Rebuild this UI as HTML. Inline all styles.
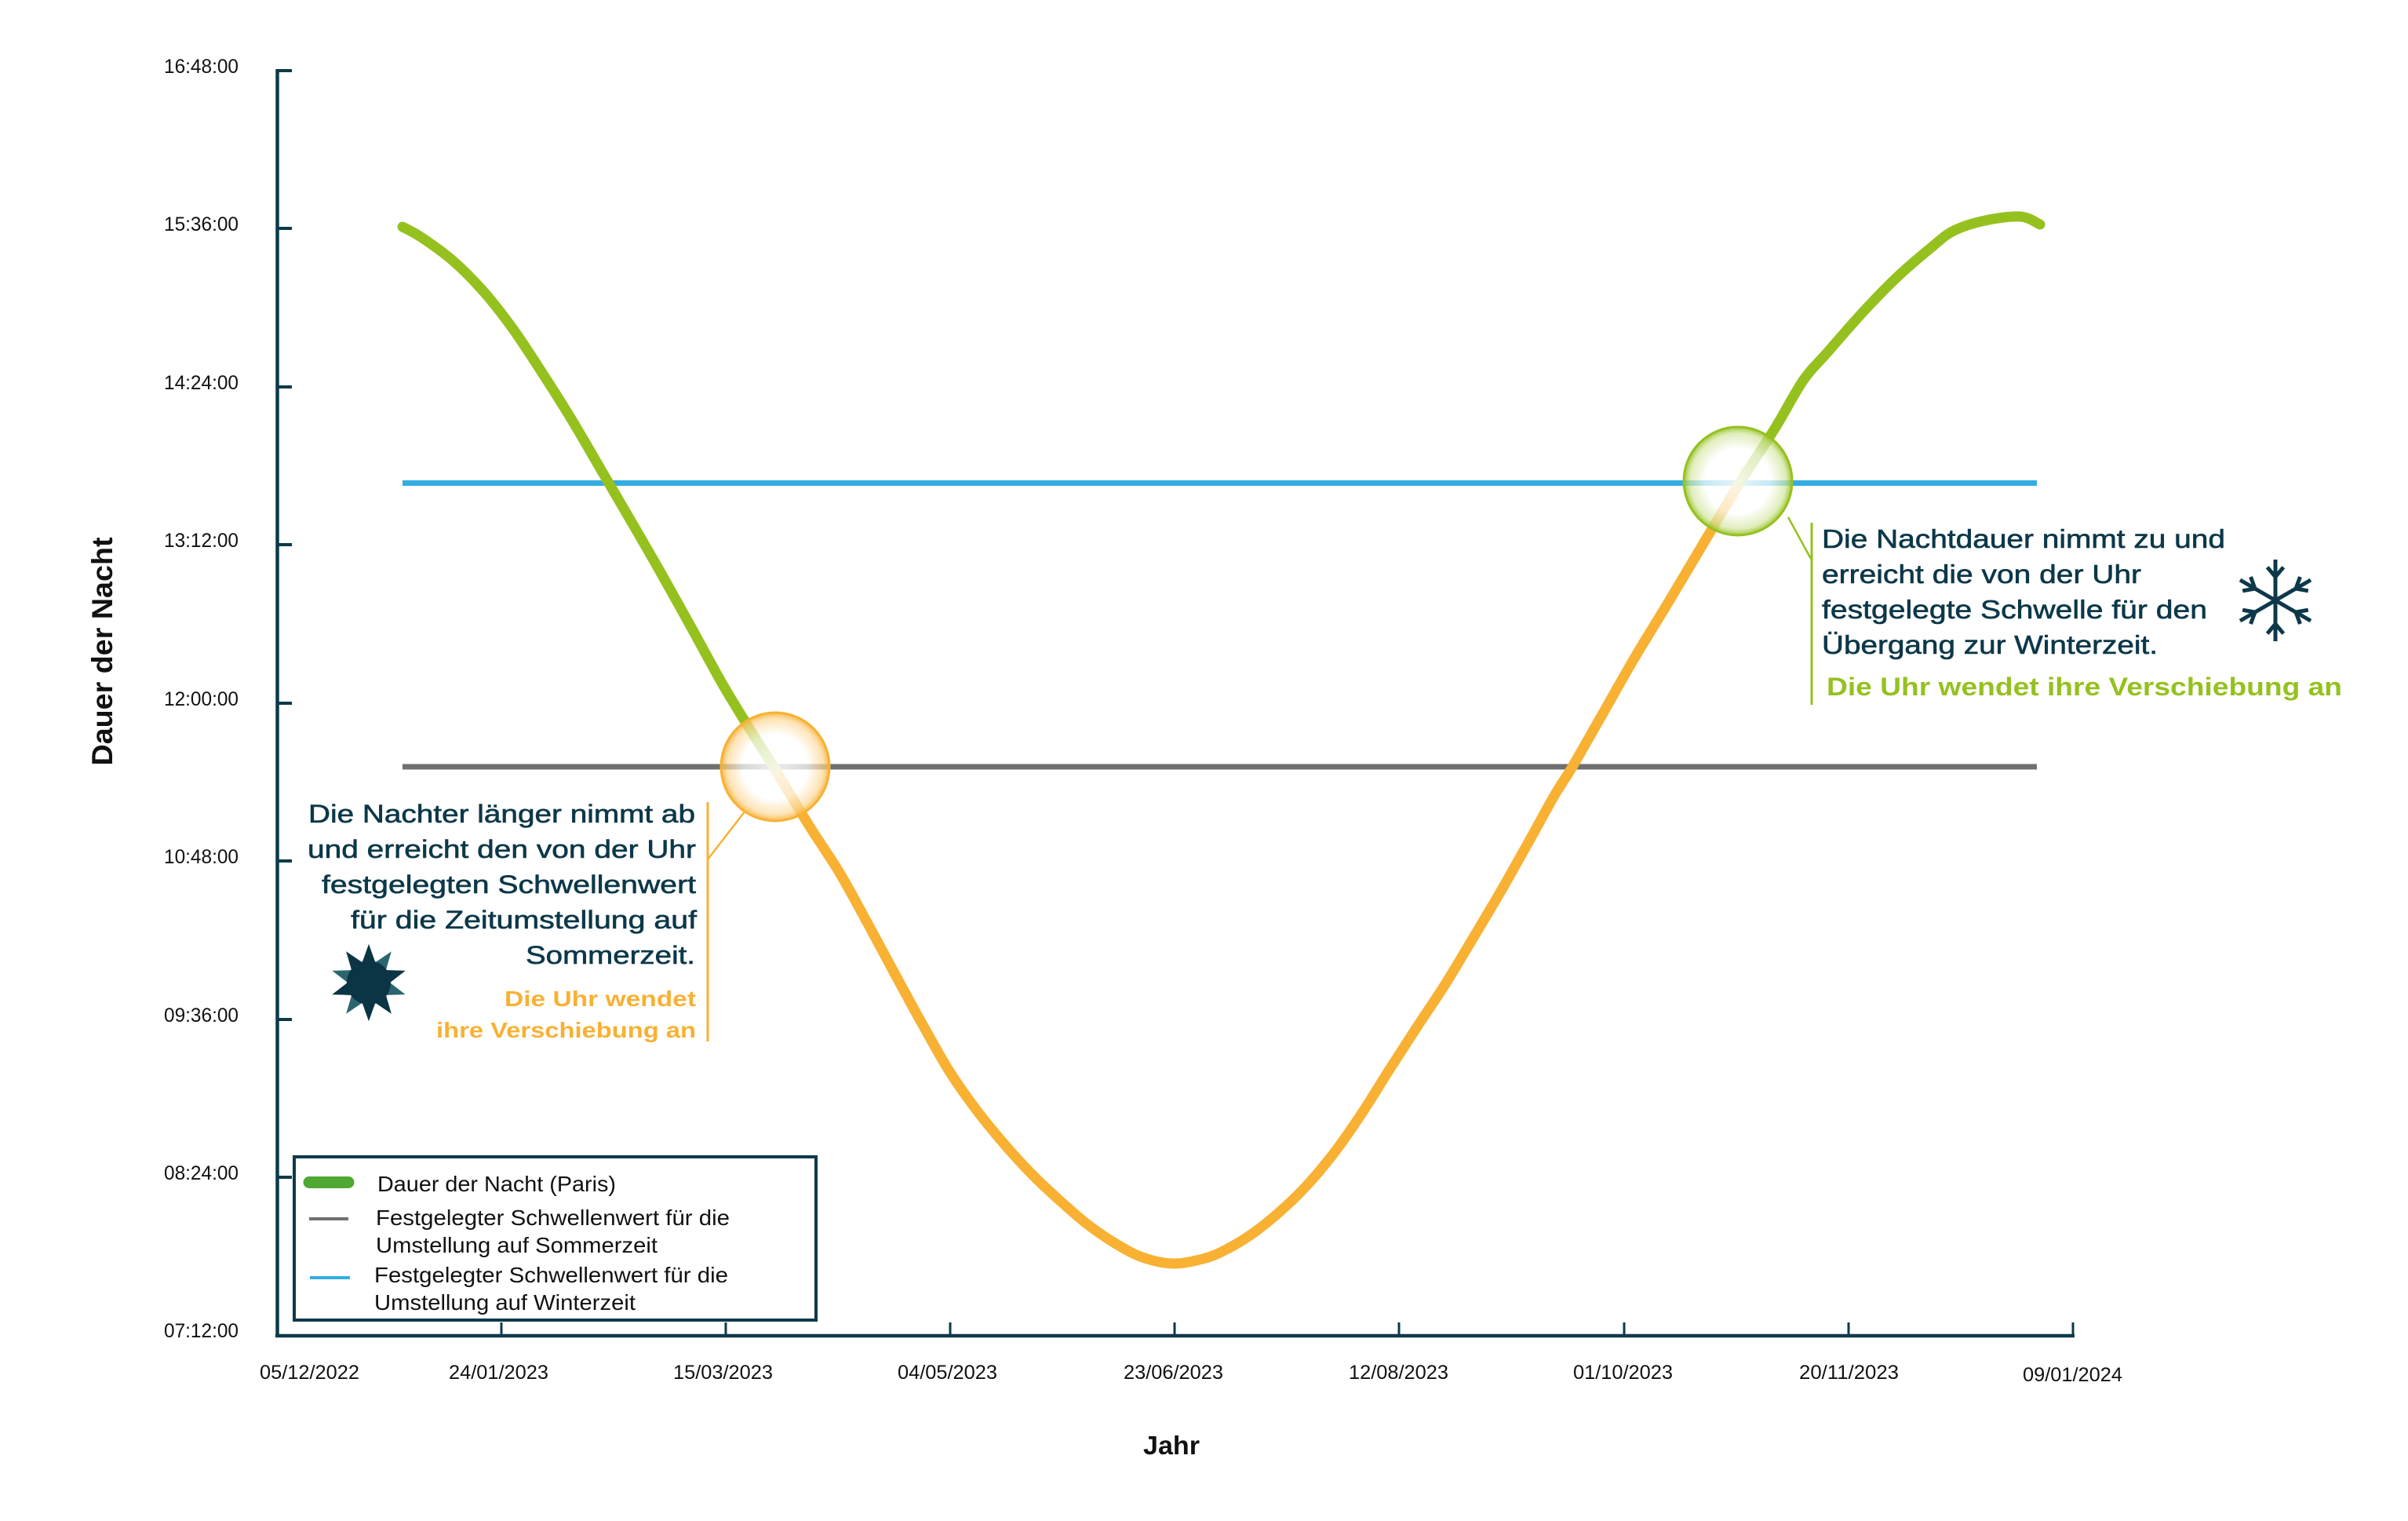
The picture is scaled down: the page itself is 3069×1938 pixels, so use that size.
<!DOCTYPE html>
<html><head><meta charset="utf-8"><style>
html,body{margin:0;padding:0;background:#fff;overflow:hidden}
svg{display:block}
text{font-family:"Liberation Sans",Arial,sans-serif}
</style></head><body>
<svg id="chart" xmlns="http://www.w3.org/2000/svg" width="3069" height="1938" viewBox="0 0 3069 1938">
<defs>
<radialGradient id="go" cx="50%" cy="50%" r="50%">
<stop offset="0" stop-color="#fff" stop-opacity="0.88"/>
<stop offset="0.6" stop-color="#fff" stop-opacity="0.72"/>
<stop offset="0.88" stop-color="#fcd999" stop-opacity="0.7"/>
<stop offset="1" stop-color="#f8b133" stop-opacity="0.9"/>
</radialGradient>
<radialGradient id="gg" cx="50%" cy="50%" r="50%">
<stop offset="0" stop-color="#fff" stop-opacity="0.88"/>
<stop offset="0.6" stop-color="#fff" stop-opacity="0.72"/>
<stop offset="0.88" stop-color="#d3e6a0" stop-opacity="0.7"/>
<stop offset="1" stop-color="#95c11f" stop-opacity="0.9"/>
</radialGradient>
</defs>
<rect width="3069" height="1938" fill="#fff"/>

<!-- axes -->
<g stroke="#0d3a4a" fill="none">
<line x1="353.5" y1="88" x2="353.5" y2="1704" stroke-width="4.5"/>
<line x1="351" y1="1702" x2="2644" y2="1702" stroke-width="4.5"/>
<g stroke-width="4">
<line x1="353" y1="90" x2="372" y2="90"/>
<line x1="353" y1="291" x2="372" y2="291"/>
<line x1="353" y1="493" x2="372" y2="493"/>
<line x1="353" y1="694" x2="372" y2="694"/>
<line x1="353" y1="896" x2="372" y2="896"/>
<line x1="353" y1="1097" x2="372" y2="1097"/>
<line x1="353" y1="1299" x2="372" y2="1299"/>
<line x1="353" y1="1500" x2="372" y2="1500"/>
</g>
<g stroke-width="3">
<line x1="639" y1="1685" x2="639" y2="1702"/>
<line x1="925" y1="1685" x2="925" y2="1702"/>
<line x1="1211" y1="1685" x2="1211" y2="1702"/>
<line x1="1497" y1="1685" x2="1497" y2="1702"/>
<line x1="1783" y1="1685" x2="1783" y2="1702"/>
<line x1="2070" y1="1685" x2="2070" y2="1702"/>
<line x1="2356" y1="1685" x2="2356" y2="1702"/>
<line x1="2642" y1="1685" x2="2642" y2="1704"/>
</g>
</g>

<!-- y tick labels -->
<g font-size="25" fill="#111">
<text x="209" y="93" textLength="95" lengthAdjust="spacingAndGlyphs">16:48:00</text>
<text x="209" y="294" textLength="95" lengthAdjust="spacingAndGlyphs">15:36:00</text>
<text x="209" y="496" textLength="95" lengthAdjust="spacingAndGlyphs">14:24:00</text>
<text x="209" y="697" textLength="95" lengthAdjust="spacingAndGlyphs">13:12:00</text>
<text x="209" y="899" textLength="95" lengthAdjust="spacingAndGlyphs">12:00:00</text>
<text x="209" y="1100" textLength="95" lengthAdjust="spacingAndGlyphs">10:48:00</text>
<text x="209" y="1302" textLength="95" lengthAdjust="spacingAndGlyphs">09:36:00</text>
<text x="209" y="1503" textLength="95" lengthAdjust="spacingAndGlyphs">08:24:00</text>
<text x="209" y="1704" textLength="95" lengthAdjust="spacingAndGlyphs">07:12:00</text>
</g>
<!-- x tick labels -->
<g font-size="25" fill="#111">
<text x="331" y="1757" textLength="127" lengthAdjust="spacingAndGlyphs">05/12/2022</text>
<text x="572" y="1757" textLength="127" lengthAdjust="spacingAndGlyphs">24/01/2023</text>
<text x="858" y="1757" textLength="127" lengthAdjust="spacingAndGlyphs">15/03/2023</text>
<text x="1144" y="1757" textLength="127" lengthAdjust="spacingAndGlyphs">04/05/2023</text>
<text x="1432" y="1757" textLength="127" lengthAdjust="spacingAndGlyphs">23/06/2023</text>
<text x="1719" y="1757" textLength="127" lengthAdjust="spacingAndGlyphs">12/08/2023</text>
<text x="2005" y="1757" textLength="127" lengthAdjust="spacingAndGlyphs">01/10/2023</text>
<text x="2293" y="1757" textLength="127" lengthAdjust="spacingAndGlyphs">20/11/2023</text>
<text x="2578" y="1760" textLength="127" lengthAdjust="spacingAndGlyphs">09/01/2024</text>
</g>

<!-- axis titles -->
<text x="1457" y="1853" font-size="33" font-weight="bold" fill="#111" textLength="72" lengthAdjust="spacingAndGlyphs">Jahr</text>
<g transform="translate(143,830) rotate(-90)">
<text x="-145.5" y="0" font-size="37" font-weight="bold" fill="#111" textLength="291" lengthAdjust="spacingAndGlyphs">Dauer der Nacht</text>
</g>

<!-- threshold lines -->
<line x1="513" y1="977" x2="2596" y2="977" stroke="#707070" stroke-width="7"/>
<line x1="513" y1="615.5" x2="2596" y2="615.5" stroke="#33ade3" stroke-width="7"/>

<!-- curve -->
<g id="curve" fill="none" stroke-width="13" stroke-linecap="round" stroke-linejoin="round">
<polyline class="c" stroke="#f8b133" points="986,977 1030,1050 1070,1112 1105,1175 1140,1240 1175,1304 1210,1365 1245,1415 1281,1459 1316,1497 1351,1530 1386,1560 1421,1584 1456,1602 1495,1610 1533,1604 1561,1593 1596,1572 1631,1544 1666,1510 1701,1468 1736,1418 1772,1361 1807,1307 1842,1254 1877,1196 1912,1137 1947,1075 1982,1012 2004,977 2044,907 2084,837 2129,763 2173,689 2217,615"/>
<polyline class="c" stroke="#95c11f" points="513,289 538,303 577,332 615,370 653,418 691,475 730,537 768,602 806,667 844,733 883,803 921,872 955,928 986,977"/>
<polyline class="c" stroke="#95c11f" points="2217,615 2262,546 2298,485 2329,449 2374,398 2419,352 2463,314 2490,294 2530,281 2575,276 2600,286"/>
</g>

<!-- highlight circles -->
<circle cx="988" cy="977" r="69" fill="url(#go)" stroke="#f8b133" stroke-width="3"/>
<circle cx="2215" cy="613" r="69" fill="url(#gg)" stroke="#95c11f" stroke-width="3"/>

<!-- left annotation -->
<line x1="902" y1="1022" x2="902" y2="1327" stroke="#f8b133" stroke-width="3"/>
<line x1="902" y1="1095" x2="950" y2="1033" stroke="#f8b133" stroke-width="2.5"/>
<g font-size="32" fill="#0c3849" stroke="#0c3849" stroke-width="0.6">
<text x="393" y="1048" textLength="493" lengthAdjust="spacingAndGlyphs">Die Nachter länger nimmt ab</text>
<text x="392" y="1093" textLength="495" lengthAdjust="spacingAndGlyphs">und erreicht den von der Uhr</text>
<text x="410" y="1138" textLength="477" lengthAdjust="spacingAndGlyphs">festgelegten Schwellenwert</text>
<text x="447" y="1183" textLength="441" lengthAdjust="spacingAndGlyphs">für die Zeitumstellung auf</text>
<text x="670" y="1228" textLength="216" lengthAdjust="spacingAndGlyphs">Sommerzeit.</text>
</g>
<g font-size="28" font-weight="bold" fill="#f8b133">
<text x="643" y="1282" textLength="244" lengthAdjust="spacingAndGlyphs">Die Uhr wendet</text>
<text x="556" y="1322" textLength="331" lengthAdjust="spacingAndGlyphs">ihre Verschiebung an</text>
</g>

<!-- sun icon -->
<polygon fill="#2b6570" points="470,1203 478.3,1226.3 498.8,1212.4 491.8,1236.1 516.6,1236.9 497,1252 516.6,1267.1 491.8,1267.9 498.8,1291.6 478.3,1277.7 470,1301 461.7,1277.7 441.2,1291.6 448.2,1267.9 423.4,1267.1 443,1252 423.4,1236.9 448.2,1236.1 441.2,1212.4 461.7,1226.3"/>
<polygon fill="#0b3545" points="470,1203 478.3,1226.3 491.8,1236.1 516.6,1236.9 497,1252 491.8,1267.9 498.8,1291.6 478.3,1277.7 470,1301 461.7,1277.7 448.2,1267.9 423.4,1267.1 443,1252 448.2,1236.1 441.2,1212.4 461.7,1226.3"/>
<circle cx="470" cy="1252" r="28" fill="#0b3545"/>

<!-- right annotation -->
<line x1="2309" y1="666" x2="2309" y2="898" stroke="#95c11f" stroke-width="3"/>
<line x1="2279" y1="659" x2="2308" y2="712" stroke="#95c11f" stroke-width="2.5"/>
<g font-size="33" fill="#0c3849" stroke="#0c3849" stroke-width="0.6">
<text x="2322" y="698" textLength="514" lengthAdjust="spacingAndGlyphs">Die Nachtdauer nimmt zu und</text>
<text x="2322" y="743" textLength="407" lengthAdjust="spacingAndGlyphs">erreicht die von der Uhr</text>
<text x="2322" y="788" textLength="491" lengthAdjust="spacingAndGlyphs">festgelegte Schwelle für den</text>
<text x="2322" y="833" textLength="428" lengthAdjust="spacingAndGlyphs">Übergang zur Winterzeit.</text>
</g>
<text x="2328" y="886" font-size="32" font-weight="bold" fill="#95c11f" textLength="657" lengthAdjust="spacingAndGlyphs">Die Uhr wendet ihre Verschiebung an</text>

<!-- snowflake -->
<g stroke="#0c3849" stroke-width="5" fill="none">
<line x1="2900" y1="713" x2="2900" y2="817"/>
<line x1="2945" y1="739" x2="2855" y2="791"/>
<line x1="2855" y1="739" x2="2945" y2="791"/>
<polyline points="2889.7,722.7 2900,735 2910.3,722.7"/>
<polyline points="2931.5,735 2926,750 2941.8,752.8"/>
<polyline points="2941.8,777.2 2926,780 2931.5,795"/>
<polyline points="2910.3,807.3 2900,795 2889.7,807.3"/>
<polyline points="2868.5,795 2874,780 2858.2,777.2"/>
<polyline points="2858.2,752.8 2874,750 2868.5,735"/>
</g>

<!-- legend -->
<rect x="375" y="1474" width="665" height="208" fill="#fff" stroke="#0d3a4a" stroke-width="4"/>
<line x1="394" y1="1506.5" x2="444" y2="1506.5" stroke="#4ea832" stroke-width="15" stroke-linecap="round"/>
<line x1="394" y1="1553" x2="444" y2="1553" stroke="#707070" stroke-width="4"/>
<line x1="395" y1="1628" x2="446" y2="1628" stroke="#33ade3" stroke-width="4"/>
<g font-size="28" fill="#111">
<text x="481" y="1518" textLength="304" lengthAdjust="spacingAndGlyphs">Dauer der Nacht (Paris)</text>
<text x="479" y="1561" textLength="451" lengthAdjust="spacingAndGlyphs">Festgelegter Schwellenwert für die</text>
<text x="479" y="1596" textLength="359" lengthAdjust="spacingAndGlyphs">Umstellung auf Sommerzeit</text>
<text x="477" y="1634" textLength="451" lengthAdjust="spacingAndGlyphs">Festgelegter Schwellenwert für die</text>
<text x="477" y="1669" textLength="333" lengthAdjust="spacingAndGlyphs">Umstellung auf Winterzeit</text>
</g>
</svg>
<script>
(function(){
  var NS="http://www.w3.org/2000/svg";
  var pls=document.querySelectorAll('polyline.c');
  for(var k=0;k<pls.length;k++){
    var pl=pls[k];
    var raw=pl.getAttribute('points').trim().split(/\s+/);
    var p=[];
    for(var i=0;i<raw.length;i++){var a=raw[i].split(',');p.push([+a[0],+a[1]]);}
    var d='M'+p[0][0]+','+p[0][1];
    for(var i=0;i<p.length-1;i++){
      var p0=p[i-1]||p[i],p1=p[i],p2=p[i+1],p3=p[i+2]||p[i+1];
      var c1x=p1[0]+(p2[0]-p0[0])/6,c1y=p1[1]+(p2[1]-p0[1])/6;
      var c2x=p2[0]-(p3[0]-p1[0])/6,c2y=p2[1]-(p3[1]-p1[1])/6;
      d+=' C'+c1x.toFixed(1)+','+c1y.toFixed(1)+' '+c2x.toFixed(1)+','+c2y.toFixed(1)+' '+p2[0]+','+p2[1];
    }
    var path=document.createElementNS(NS,'path');
    path.setAttribute('d',d);
    path.setAttribute('stroke',pl.getAttribute('stroke'));
    pl.parentNode.replaceChild(path,pl);
  }
})();
</script>
</body></html>
